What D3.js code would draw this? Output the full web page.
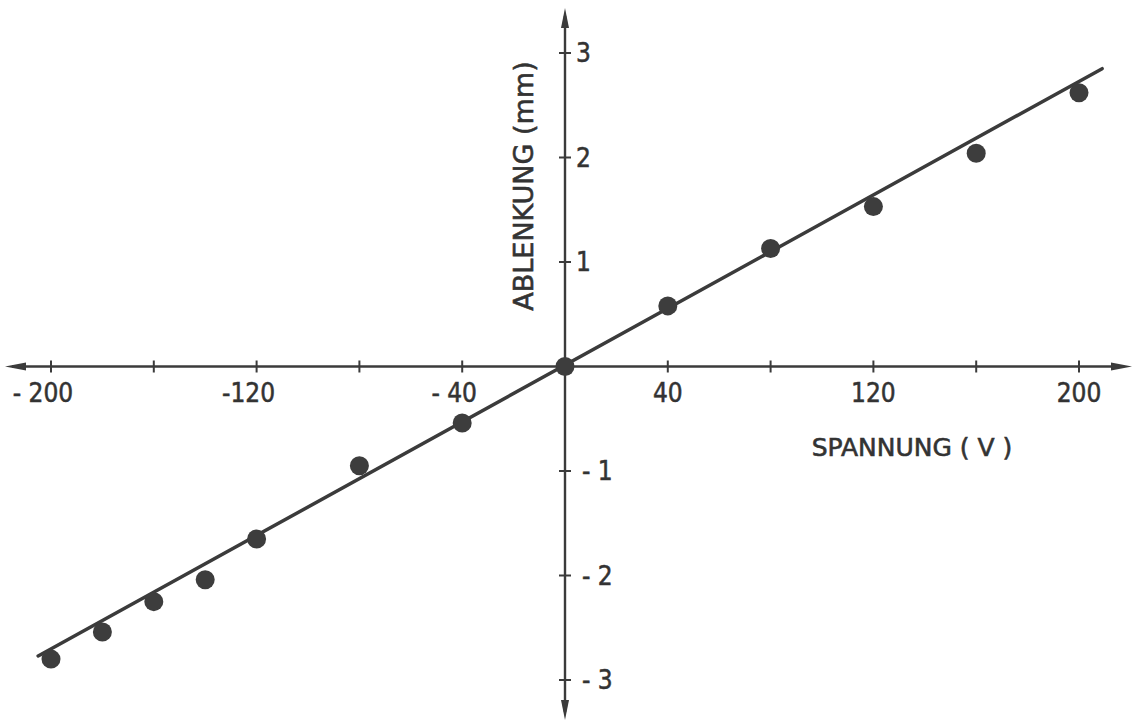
<!DOCTYPE html>
<html>
<head>
<meta charset="utf-8">
<script src="https://cdn.jsdelivr.net/npm/d3@7"></script>
<style>
  html, body { margin: 0; padding: 0; background: #fff; }
  svg { display: block; }
</style>
</head>
<body>
<div id="chart"></div>
<script>
// Measured points (Spannung in V, Ablenkung in mm)
const voltages = [-200, -180, -160, -140, -120, -80, -40, 0, 40, 80, 120, 160, 200];
const deflections = [-2.80, -2.54, -2.25, -2.04, -1.65, -0.95, -0.54, 0, 0.58, 1.13, 1.53, 2.04, 2.62];

// Fitted straight line (end points)
const fitX = [-205, 209];
const fitY = [-2.77, 2.85];

const xTicks = [-200, -160, -120, -80, -40, 40, 80, 120, 160, 200];
const xTickLabels = { '-200': '- 200', '-120': '-120', '-40': '- 40', '40': '40', '120': '120', '200': '200' };
const yTicks = [-3, -2, -1, 1, 2, 3];
const yTickLabels = { '-3': '- 3', '-2': '- 2', '-1': '- 1', '1': '1', '2': '2', '3': '3' };

const width = 1136;
const height = 721;
const ink = '#3b3b3b';
const textInk = '#333';

const svg = d3.select('#chart')
    .append('svg')
    .attr('width', width)
    .attr('height', height)
    .style('font-family', 'DejaVu Sans, sans-serif');

// Scales: 0 V sits at x=565, 0 mm at y=366.5
const x = d3.scaleLinear().domain([-200, 200]).range([51, 1079]);
const y = d3.scaleLinear().domain([-3, 3]).range([680, 53]);

const x0 = x(0);
const y0 = y(0);

// Axes lines
const axisG = svg.append('g').attr('stroke', ink).attr('stroke-width', 2.4);
axisG.append('line')
    .attr('x1', 12).attr('x2', 1124)
    .attr('y1', y0).attr('y2', y0);
axisG.append('line')
    .attr('x1', x0).attr('x2', x0)
    .attr('y1', 16).attr('y2', 712);

// Arrow heads
const arrows = [
    `M5,${y0} L26,${y0 - 4} L26,${y0 + 4} Z`,
    `M1132,${y0} L1111,${y0 - 4} L1111,${y0 + 4} Z`,
    `M${x0},8 L${x0 - 4},28 L${x0 + 4},28 Z`,
    `M${x0},720 L${x0 - 4},700 L${x0 + 4},700 Z`
];
svg.append('g')
    .selectAll('path')
    .data(arrows)
    .join('path')
    .attr('d', d => d)
    .attr('fill', ink);

// X ticks
svg.append('g')
    .selectAll('line')
    .data(xTicks)
    .join('line')
    .attr('x1', d => x(d)).attr('x2', d => x(d))
    .attr('y1', y0 - 6).attr('y2', y0 + 6)
    .attr('stroke', ink)
    .attr('stroke-width', 2);

svg.append('g')
    .selectAll('text')
    .data(xTicks.filter(d => xTickLabels[d] !== undefined))
    .join('text')
    .attr('x', d => x(d) + (d < 0 ? -8 : 0))
    .attr('y', 402)
    .attr('text-anchor', 'middle')
    .style('font-family', 'DejaVu Sans Condensed, DejaVu Sans, sans-serif')
    .style('font-size', '26px')
    .attr('fill', textInk)
    .attr('stroke', textInk)
    .attr('stroke-width', 0.5)
    .text(d => xTickLabels[d]);

// Y ticks
svg.append('g')
    .selectAll('line')
    .data(yTicks)
    .join('line')
    .attr('x1', x0 - 6).attr('x2', x0 + 6)
    .attr('y1', d => y(d)).attr('y2', d => y(d))
    .attr('stroke', ink)
    .attr('stroke-width', 2);

svg.append('g')
    .selectAll('text')
    .data(yTicks)
    .join('text')
    .attr('x', d => d < 0 ? 582 : 576)
    .attr('y', d => y(d) + 9)
    .style('font-family', 'DejaVu Sans Condensed, DejaVu Sans, sans-serif')
    .style('font-size', '26px')
    .attr('fill', textInk)
    .attr('stroke', textInk)
    .attr('stroke-width', 0.5)
    .text(d => yTickLabels[d]);

// Axis titles
svg.append('text')
    .attr('x', 912)
    .attr('y', 456)
    .attr('text-anchor', 'middle')
    .style('font-size', '25px')
    .attr('fill', textInk)
    .attr('stroke', textInk)
    .attr('stroke-width', 0.6)
    .text('SPANNUNG ( V )');

svg.append('text')
    .attr('transform', 'translate(533,186) rotate(-90)')
    .attr('text-anchor', 'middle')
    .style('font-size', '27px')
    .attr('fill', textInk)
    .attr('stroke', textInk)
    .attr('stroke-width', 0.6)
    .text('ABLENKUNG (mm)');

// Fit line
const fitLine = d3.line()
    .x(d => x(d[0]))
    .y(d => y(d[1]));

svg.append('path')
    .datum(d3.zip(fitX, fitY))
    .attr('d', fitLine)
    .attr('fill', 'none')
    .attr('stroke', ink)
    .attr('stroke-width', 3.5)
    .attr('stroke-linecap', 'round');

// Data points
svg.append('g')
    .selectAll('circle')
    .data(d3.zip(voltages, deflections))
    .join('circle')
    .attr('cx', d => x(d[0]))
    .attr('cy', d => y(d[1]))
    .attr('r', 9.5)
    .attr('fill', '#3d3d3d');
</script>
</body>
</html>
